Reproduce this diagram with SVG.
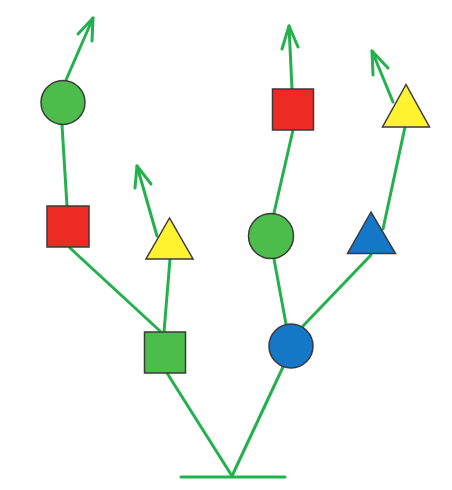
<svg xmlns="http://www.w3.org/2000/svg" width="452" height="490" viewBox="0 0 452 490">
<style>
.c{stroke:#22b14c;stroke-width:3;fill:none;stroke-linecap:round;stroke-linejoin:round}
.s{stroke:#3a3a3a;stroke-width:1.5}
.g{fill:#4cbd4a}.r{fill:#ee2a24}.y{fill:#fff22e}.b{fill:#1577c8}
</style>
<rect width="452" height="490" fill="#fff"/>
<g id="connectors" class="c">
<line x1="181" y1="477" x2="285" y2="477"/>
<line x1="232" y1="476" x2="167" y2="373"/>
<line x1="232" y1="476" x2="283" y2="367"/>
<line x1="160" y1="331" x2="70" y2="248"/>
<line x1="164" y1="332" x2="170" y2="259"/>
<line x1="67" y1="206" x2="62" y2="125"/>
<line x1="66" y1="80" x2="93" y2="18"/>
<polyline points="78,34 93,18 92,41"/>
<line x1="157" y1="236" x2="137" y2="166"/>
<polyline points="135,188 137,166 151,184"/>
<line x1="286" y1="324" x2="274" y2="259"/>
<line x1="303" y1="326" x2="371" y2="255"/>
<line x1="274" y1="213" x2="293" y2="130"/>
<line x1="292" y1="89" x2="289" y2="26"/>
<polyline points="282,49 289,26 298,47"/>
<line x1="383" y1="229" x2="405" y2="127"/>
<line x1="393" y1="102" x2="372" y2="51"/>
<polyline points="373,75 372,51 388,68"/>
</g>
<g id="ground-square-green"><rect class="g s" x="144.5" y="332" width="41" height="41"/></g>
<g id="ground-circle-blue"><circle class="b s" cx="291" cy="346" r="22"/></g>
<g id="red-square-left"><rect class="r s" x="47" y="206" width="42" height="41"/></g>
<g id="green-circle-left"><circle class="g s" cx="63" cy="102.5" r="22"/></g>
<g id="yellow-triangle-left"><polygon class="y s" points="169.5,218 146,259 193,259"/></g>
<g id="green-circle-right"><circle class="g s" cx="271" cy="236" r="22.5"/></g>
<g id="red-square-right"><rect class="r s" x="272.5" y="89" width="41" height="41"/></g>
<g id="blue-triangle"><polygon class="b s" points="371,212 347.5,253.5 395.5,253.5"/></g>
<g id="yellow-triangle-right"><polygon class="y s" points="406,84.5 382.5,127 429.5,127"/></g>
</svg>
